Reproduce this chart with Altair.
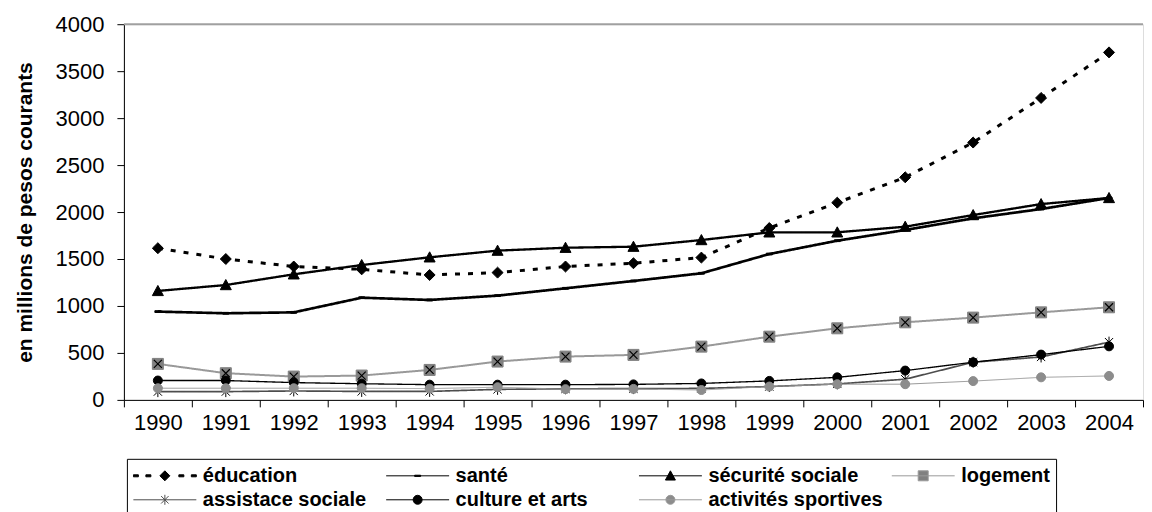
import altair as alt
import pandas as pd

years = [str(y) for y in range(1990, 2005)]
series = ["éducation", "santé", "sécurité sociale", "logement",
          "assistace sociale", "culture et arts", "activités sportives"]

education = [1615, 1500, 1420, 1390, 1330, 1355, 1420, 1455, 1515, 1830, 2100, 2370, 2740, 3215, 3700]
sante = [940, 922, 932, 1088, 1064, 1110, 1188, 1266, 1348, 1553, 1695, 1809, 1933, 2032, 2150]
securite = [1160, 1223, 1337, 1436, 1518, 1589, 1620, 1631, 1702, 1784, 1784, 1844, 1968, 2085, 2150]
logement = [383, 284, 248, 259, 319, 408, 461, 479, 567, 673, 762, 826, 876, 932, 986]
assistance = [88, 88, 95, 90, 90, 112, 118, 120, 122, 142, 170, 220, 401, 457, 615]
culture = [206, 206, 184, 172, 162, 162, 162, 165, 175, 202, 240, 312, 401, 482, 570]
sport = [124, 124, 124, 124, 120, 135, 114, 117, 105, 142, 167, 167, 200, 240, 255]

values = [education, sante, securite, logement, assistance, culture, sport]
rows = []
for name, vals in zip(series, values):
    for yr, v in zip(years, vals):
        rows.append({"annee": yr, "serie": name, "valeur": v})
df = pd.DataFrame(rows)
top_line = pd.DataFrame({"valeur": [4000]})

FONT = "Liberation Sans"
line_colors = ["#000000", "#000000", "#000000", "#999999", "#4d4d4d", "#000000", "#999999"]
line_dash = [[5, 8], [1, 0], [1, 0], [1, 0], [1, 0], [1, 0], [1, 0]]
line_width = [3, 1, 1, 1, 1, 1, 1]
mk_fill = ["#000000", "#000000", "#000000", "#808080", "transparent", "#000000", "#8c8c8c"]
mk_stroke = ["#000000", "#000000", "#000000", "#808080", "#000000", "#000000", "#8c8c8c"]
lg_fill = ["#000000", "#000000", "#000000", "#808080", "transparent", "#000000", "#8c8c8c"]
lg_stroke = ["#000000", "#000000", "#000000", "#999999", "#4d4d4d", "#000000", "#999999"]


# ---- marker paths (mark size 400 -> 1 unit = 10 px)
def mk(u):
    def f(v):
        return f"{v / u:.4f}"
    return f

m = mk(10.0)
def diamond(f, r):
    return f"M0,{f(-r)}L{f(r)},0L0,{f(r)}L{f(-r)},0Z"
def rect(f, x0, x1, h):
    return f"M{f(x0)},{f(-h)}H{f(x1)}V{f(h)}H{f(x0)}Z"
def triangle(f, r):
    return f"M{f(-r)},{f(0.85 * r)}L0,{f(-r)}L{f(r)},{f(0.85 * r)}Z"
def square(f, r):
    return rect(f, -r, r, r)
def circle(f, r):
    return (f"M{f(-r)},0A{f(r)},{f(r)},0,1,0,{f(r)},0"
            f"A{f(r)},{f(r)},0,1,0,{f(-r)},0Z")
def xcross(f, r):
    return f"M{f(-r)},{f(-r)}L{f(r)},{f(r)}M{f(r)},{f(-r)}L{f(-r)},{f(r)}"
def asterisk(f, r):
    return xcross(f, r * 0.75) + f"M0,{f(-r)}V{f(r)}"

marker_paths = [
    diamond(m, 5.5),
    rect(m, -3, 3, 0.9),
    triangle(m, 5.5),
    square(m, 5.5),
    asterisk(m, 5.5),
    circle(m, 4.5),
    circle(m, 4.5),
]

# ---- legend symbol paths (symbol 63 px wide)
LW = 63.0
lf = mk(LW / 2)
half = LW / 2
hline = f"M{lf(-half)},0H{lf(half)}"
edu_leg = (rect(lf, -31.5, -26.5, 1) + rect(lf, -19, -14, 1) + diamond(lf, 5)
           + rect(lf, 14, 19, 1) + rect(lf, 26.5, 31.5, 1))
legend_paths = [
    edu_leg,
    hline + rect(lf, -3, 3, 0.6),
    hline + triangle(lf, 5),
    hline + square(lf, 5),
    hline + asterisk(lf, 5),
    hline + circle(lf, 4.5),
    hline + circle(lf, 4.5),
]

# legend entries are laid out column by column (2 rows x 4 columns)
legend_order = [0, 4, 1, 5, 2, 6, 3]
leg_domain = [series[i] for i in legend_order]
leg_paths = [legend_paths[i] for i in legend_order]
leg_fill = [lg_fill[i] for i in legend_order]
leg_stroke = [lg_stroke[i] for i in legend_order]

xenc = alt.X("annee:N", title=None, sort=years,
             scale=alt.Scale(domain=years, paddingInner=0, paddingOuter=0),
             axis=alt.Axis(labelAngle=0, labelFont=FONT, labelFontSize=22, labelColor="#000",
                           domainColor="#000", tickColor="#000", tickSize=7,
                           tickBand="extent", labelPadding=6, grid=False))
yscale = alt.Scale(domain=[0, 4000], nice=False)
yenc = alt.Y("valeur:Q",
             title="en millions de pesos courants",
             scale=yscale,
             axis=alt.Axis(values=list(range(0, 4001, 500)), format="d",
                           labelFont=FONT, labelFontSize=22,
                           labelColor="#000", domainColor="#000", tickColor="#000",
                           tickSize=7, labelPadding=13, titleFont=FONT, titleFontSize=21,
                           titleFontWeight="bold", titleColor="#000", titlePadding=20,
                           grid=False))

base = alt.Chart(df)

top_rule = alt.Chart(top_line).mark_rule(color="#a0a0a0", strokeWidth=2).encode(
    y=alt.Y("valeur:Q", scale=yscale)
)

lines = base.mark_line().encode(
    x=xenc, y=yenc,
    detail="serie:N",
    stroke=alt.Stroke("serie:N", scale=alt.Scale(domain=series, range=line_colors), legend=None),
    strokeDash=alt.StrokeDash("serie:N", scale=alt.Scale(domain=series, range=line_dash), legend=None),
    strokeWidth=alt.StrokeWidth("serie:O", scale=alt.Scale(domain=series, range=line_width), legend=None),
)

points = base.mark_point(filled=True, size=400, strokeWidth=1, opacity=1).encode(
    x=xenc, y=yenc,
    shape=alt.Shape("serie:N", scale=alt.Scale(domain=series, range=marker_paths), legend=None),
    fill=alt.Fill("serie:N", scale=alt.Scale(domain=series, range=mk_fill), legend=None),
    stroke=alt.Stroke("serie:N", scale=alt.Scale(domain=series, range=mk_stroke), legend=None),
)

crosses = base.transform_filter(alt.datum.serie == "logement").mark_point(
    shape=xcross(m, 4), size=400, filled=False, stroke="#000", strokeWidth=1.2, opacity=1
).encode(x=xenc, y=yenc)

pad_label = "datum.label === 'logement' ? 'logement" + " " * 16 + "' : datum.label"

leg = alt.Legend(orient="none", legendX=3, legendY=435, columns=4, gridAlign="all",
                 columnPadding=8, rowPadding=2, clipHeight=22, symbolSize=LW * LW,
                 symbolStrokeWidth=1, symbolOpacity=1, labelFont=FONT, labelFontSize=20,
                 labelFontWeight="bold", labelColor="#000", labelOffset=6, labelLimit=400,
                 labelExpr=pad_label,
                 strokeColor="#000", fillColor="#ffffff", padding=6, title=None)

legend_layer = base.transform_filter("false").mark_point(filled=True, opacity=1).encode(
    x=xenc, y=yenc,
    shape=alt.Shape("serie:N", scale=alt.Scale(domain=leg_domain, range=leg_paths), legend=leg),
    fill=alt.Fill("serie:N", scale=alt.Scale(domain=leg_domain, range=leg_fill), legend=leg),
    stroke=alt.Stroke("serie:N", scale=alt.Scale(domain=leg_domain, range=leg_stroke), legend=leg),
)

chart = alt.layer(top_rule, lines, points, crosses, legend_layer).resolve_scale(
    shape="independent", fill="independent", stroke="independent"
).properties(
    width=1020, height=376,
    padding={"left": 6, "top": 5, "right": 0, "bottom": 0},
    background="#ffffff",
).configure_view(stroke=None).configure(font=FONT)

chart.save("out.html", embed_options={"renderer": "svg", "actions": False})
